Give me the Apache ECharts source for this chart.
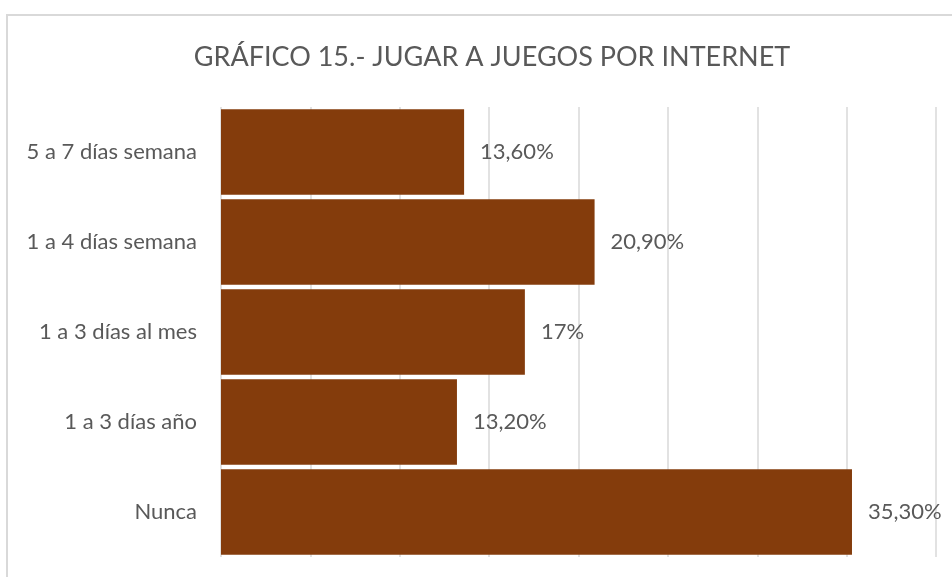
<!DOCTYPE html>
<html>
<head>
<meta charset="utf-8">
<script src="https://cdn.jsdelivr.net/npm/echarts@6/dist/echarts.min.js"></script>
<style>
  html, body { margin: 0; padding: 0; background: #fff; }
  #wrap { position: relative; width: 952px; height: 577px; overflow: hidden; }
  #frame { position: absolute; left: 6px; top: 14px; width: 980px; height: 600px; border: 2px solid #d9d9d9; box-sizing: border-box; }
  #chart { position: absolute; left: 0; top: 0; width: 952px; height: 577px; }
</style>
</head>
<body>
<div id="wrap">
  <div id="frame"></div>
  <div id="chart"></div>
</div>
<script>
// datos del gráfico
const categorias = ['5 a 7 días semana', '1 a 4 días semana', '1 a 3 días al mes', '1 a 3 días año', 'Nunca']
const porcentajes = [13.6, 20.9, 17, 13.2, 35.3]
const etiquetas = ['13,60%', '20,90%', '17%', '13,20%', '35,30%']

const fuente = 'Lato, "Open Sans", sans-serif'
const chart = echarts.init(document.getElementById('chart'))
chart.setOption({
  animation: false,
  title: {
    text: 'GRÁFICO 15.- JUGAR A JUEGOS POR INTERNET',
    left: 487,
    top: 39,
    textAlign: 'center',
    textStyle: { color: '#595959', fontSize: 27, fontWeight: 'normal', fontFamily: fuente }
  },
  grid: { left: 221, right: 16, top: 107, bottom: 20 },
  xAxis: {
    type: 'value',
    min: 0,
    max: 40,
    interval: 5,
    axisLabel: { show: false },
    axisLine: { show: false },
    axisTick: { show: false },
    splitLine: { lineStyle: { color: '#d9d9d9', width: 1.5 } }
  },
  yAxis: {
    type: 'category',
    inverse: true,
    data: categorias,
    axisLine: { show: false },
    axisTick: { show: false },
    axisLabel: { color: '#595959', fontSize: 22, fontFamily: fuente, margin: 24 }
  },
  series: [{
    type: 'bar',
    data: porcentajes,
    barCategoryGap: '5%',
    itemStyle: { color: '#843C0C' },
    label: {
      show: true,
      position: 'right',
      distance: 16,
      color: '#595959',
      fontSize: 22,
      fontFamily: fuente,
      formatter: (p) => etiquetas[p.dataIndex]
    }
  }]
})
</script>
</body>
</html>
